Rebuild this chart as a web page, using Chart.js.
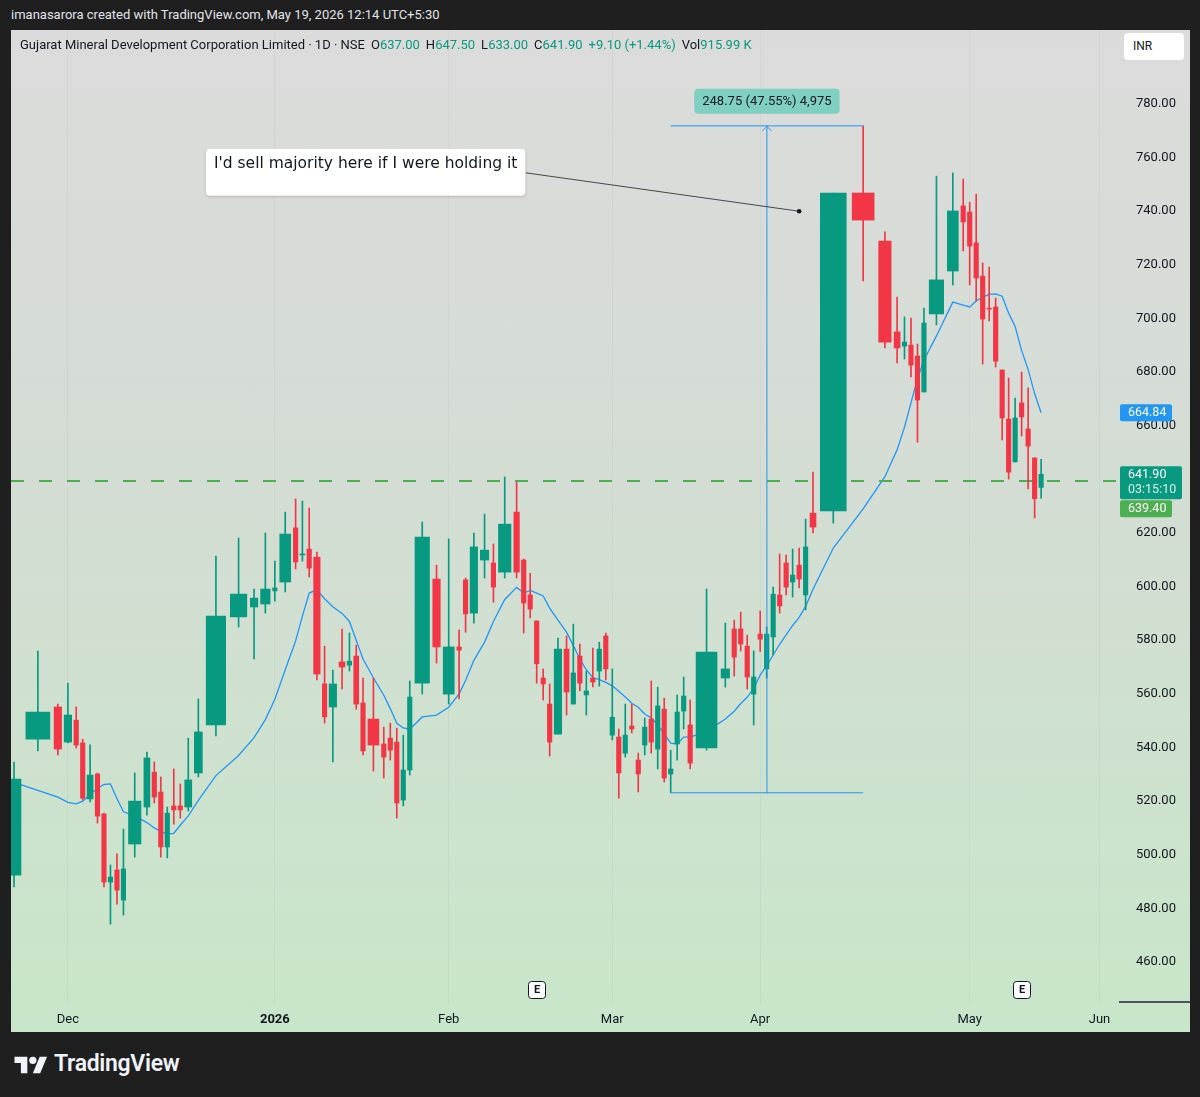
<!DOCTYPE html>
<html>
<head>
<meta charset="utf-8">
<title>GMDC 1D</title>
<script src="https://cdn.jsdelivr.net/npm/chart.js@4.4.1/dist/chart.umd.min.js"></script>
<style>
  html, body { margin: 0; padding: 0; }
  body { width: 1200px; height: 1097px; background: #1f1f1f; position: relative; overflow: hidden;
         font-family: Roboto, "Noto Sans", sans-serif; }
  #credit { position: absolute; left: 11px; top: 7px; font-size: 13px; color: #e1e3ea; }
  #panel { position: absolute; left: 11px; top: 30px; width: 1179px; height: 1002px;
           background: linear-gradient(to bottom, #dbdbdb 0%, #d4ddd4 45%, #c8e6c9 100%); }
  #panel canvas { position: absolute; left: 0; top: 0; }
  #legend { position: absolute; left: 9px; top: 7px; font-size: 13px; color: #131722; white-space: nowrap; }
  #legend .v { color: #089981; }
  #legend .g { margin-left: 6px; }
  #inr { position: absolute; left: 1113px; top: 3px; width: 60px; height: 27px; background: #fff;
         border-radius: 4px; font-size: 12px; color: #131722; line-height: 27px; box-sizing: border-box; padding-left: 9px; }
  #logo { position: absolute; left: 14px; top: 1050px; display: flex; align-items: center; gap: 6px;
          color: #f0f3fa; font-size: 23px; font-weight: 600; letter-spacing: -0.3px; }
</style>
</head>
<body>
<div id="credit">imanasarora created with TradingView.com, May 19, 2026 12:14 UTC+5:30</div>
<div id="panel">
  <canvas id="chart" width="1179" height="1002"></canvas>
  <div id="legend">Gujarat Mineral Development Corporation Limited · 1D · NSE<span class="g">O<span class="v">637.00</span></span><span class="g">H<span class="v">647.50</span></span><span class="g">L<span class="v">633.00</span></span><span class="g">C<span class="v">641.90</span></span><span class="g v">+9.10 (+1.44%)</span><span class="g">Vol<span class="v">915.99 K</span></span></div>
  <div id="inr">INR</div>
</div>
<div id="logo">
  <svg width="34" height="22" viewBox="0 0 36 24"><path d="M14 22H7V11H0V4h14v18z" fill="#f0f3fa"/><circle cx="20" cy="8" r="4" fill="#f0f3fa"/><path d="M28 22h-8l7.5-18h8L28 22z" fill="#f0f3fa"/></svg>
  <span>TradingView</span>
</div>
<script>
// daily candles, 26 Nov 2025 .. 19 May 2026
const opens = [
  492.4, 543.1, 555.1, 542, 550.2, 541.7, 520.8, 530.1, 515.2, 489.8,
  494.3, 483.1, 504, 517.8, 530.8, 523.4, 502.9, 518.2, 518.2, 517.8,
  530.5, 548.4, 588.7, 592.4, 593.5, 598.4, 601.7, 621.9, 611.8, 614,
  611, 563.7, 555.1, 571.9, 570.7, 574.1, 556.6, 550.6, 541.3, 543.5,
  542, 520.4, 531.6, 564, 602.8, 559.9, 577.5, 602.5, 590.1, 609.9,
  608.8, 605.4, 627.8, 609.9, 596.9, 587.2, 565.9, 556.2, 545, 576.7,
  556.2, 574.1, 559.6, 565.9, 568.5, 581.6, 544.6, 543.9, 537.9, 548,
  535.3, 540.9, 550.6, 539.4, 554.3, 530.1, 541.3, 553.6, 548.4, 539.8,
  565.9, 584.2, 584.2, 577.8, 559.9, 582.3, 569.3, 581.2, 596.9, 608.8,
  601.7, 608, 596.9, 627.4, 628.2, 746.8, 728.9, 695, 689.7, 690.1,
  686, 672.6, 701.7, 717.7, 742, 739.7, 728.2, 715.8, 703.8, 704.3,
  680.8, 662.5, 646.5, 668.5, 658.8, 648, 637
];
const highs = [
  534.6, 576, 556.2, 564, 555.1, 543.1, 541, 530.5, 515.5, 496.2,
  500.3, 509.6, 530.5, 538.3, 534.6, 529, 517.8, 532, 526.4, 543.5,
  558.1, 611.4, 618.1, 599.1, 620, 609.5, 627.8, 632.7, 631.9, 629.3,
  612.9, 577.8, 568.9, 584.2, 582.7, 578.2, 565.9, 565.9, 547.6, 549.1,
  547.2, 544.6, 564.8, 624.1, 608, 617.8, 583.8, 603.2, 620, 627.1,
  615.9, 640.9, 639, 610.3, 605, 587.2, 569.3, 563.7, 580.8, 581.6,
  586, 578.6, 568.5, 577.1, 579.3, 582.7, 569.3, 546.9, 556.2, 556.2,
  537.9, 551, 564.8, 562.5, 558.4, 539, 559.6, 566.3, 557.7, 599.1,
  586.4, 587.5, 590.5, 581.9, 576, 590.9, 584.9, 599.8, 612.2, 611.8,
  614, 614.4, 625.2, 642.7, 746.8, 771.85, 732.3, 708, 700.6, 700.2,
  690.5, 703.9, 753.1, 754.3, 752, 743.4, 746.4, 720.7, 719.2, 707.6,
  680.8, 677.8, 670.3, 680, 674.1, 648, 647.5
];
const lows = [
  488, 538.7, 537.2, 541.7, 539.8, 520.4, 519.7, 511.8, 488, 474.1,
  481.6, 477.5, 499.1, 514.8, 519.3, 499.1, 498.8, 511.4, 513.7, 516.3,
  529, 544.3, 584.9, 573, 590.1, 594.6, 598, 606.6, 609.5, 603.6,
  565.2, 549.1, 534.6, 561.8, 568.5, 554.3, 537.2, 531.2, 528.6, 535.3,
  513.7, 518.2, 529.7, 559.9, 571.5, 556.2, 558.1, 583, 586.4, 603.2,
  594.2, 603.2, 603.2, 582.7, 588.3, 564, 557.7, 536.8, 545, 552.1,
  556.2, 561.1, 552.1, 562.6, 562.9, 565.2, 542.8, 521.1, 536.4, 545.4,
  523.4, 537.2, 537.9, 532, 527.1, 523.1, 535.3, 546.9, 532, 539,
  562.5, 566.6, 576, 561.8, 548.4, 575.8, 565.9, 574.5, 590.1, 596.9,
  596.1, 599.5, 591.3, 620, 623.7, 714, 689, 683.4, 684.9, 678.2,
  653.9, 672.6, 697.6, 712.5, 725.2, 712.5, 706.5, 683, 699.1, 681.9,
  654.7, 640.1, 646.5, 656.2, 636.4, 625.6, 633
];
const closes = [
  528.2, 553.2, 539.4, 552.1, 540.9, 521.1, 529.7, 514.4, 489.8, 491.7,
  486.8, 494.7, 520, 536.1, 521.5, 502.9, 515.5, 516.7, 516.7, 527.9,
  545.8, 589, 597.2, 595.7, 599.1, 599.5, 619.6, 609.2, 612.2, 606.9,
  567.4, 551.4, 563.7, 570, 572.2, 556.2, 538.7, 540.9, 536.4, 539,
  519.3, 531.6, 558.8, 618.5, 577.5, 577.5, 576.3, 589.8, 614.8, 613.6,
  599.8, 623.3, 605.4, 593.9, 591.6, 571.2, 563.7, 542, 576.7, 560.7,
  567.8, 564, 561.1, 564.4, 576.7, 569.3, 551.3, 530.5, 544.6, 546.9,
  530.1, 547.6, 542, 555.5, 528.6, 532, 553.2, 559.2, 534.2, 575.6,
  569.3, 573.7, 578.6, 566.3, 566.3, 580.4, 582.3, 597.2, 592.8, 599.8,
  604.3, 602.8, 614.8, 622.2, 746.8, 736.7, 691.2, 689, 691.2, 682.6,
  669.6, 698.3, 714.4, 740.1, 736, 727, 715.1, 699.8, 703.5, 684.1,
  662.9, 642.7, 662.9, 663.3, 652.4, 632.8, 641.9
];
// relative volume, drives candle width (volume candles)
const volW = [
  14, 24, 7.5, 7.5, 4.5, 4.5, 6, 4.5, 4.5, 4.5,
  4.5, 4.5, 12.5, 6, 4.5, 4.5, 4.5, 4.5, 4.5, 7,
  8, 19.5, 16.5, 7.5, 9.5, 4.5, 11, 4.5, 5, 4.5,
  6.5, 4.5, 7.5, 6, 4.5, 5, 4.5, 11, 4.5, 4.5,
  4.5, 4.5, 4.5, 14.5, 7.5, 11, 4.5, 4.5, 7.5, 8.5,
  4.5, 12.5, 5.5, 4.5, 4.5, 4.5, 4.5, 4.5, 7.5, 5,
  4.5, 4.5, 4.5, 4.5, 4.5, 4.5, 4.5, 4.5, 4.5, 4.5,
  4.5, 4.5, 4.5, 4.5, 4.5, 4.5, 4.5, 4.5, 4.5, 21,
  8.5, 4.5, 4.5, 4.5, 4.5, 4.5, 4.5, 4.5, 4.5, 4.5,
  4.5, 4.5, 4.5, 6, 26, 22, 12.5, 6, 4.5, 4.5,
  4.5, 4.5, 14.5, 11, 4.5, 4.5, 4.5, 4.5, 4.5, 4.5,
  4.5, 4.5, 4.5, 4.5, 4.5, 4.5, 4.5
];
// moving average
const maLine = [
  527, 524, 521.5, 519.5, 519, 520, 522.5, 524.8, 526.2, 526.4,
  521, 516, 514.5, 512, 510, 508.7, 507.7, 508, 511, 514.5,
  520.3, 529.5, 537, 543.7, 550.4, 558, 569, 579.7, 589, 597.6,
  598.8, 595.5, 592.5, 590, 587, 580, 573, 566, 559.5, 554.5,
  549, 547.3, 546.8, 551.4, 552.1, 555, 560, 565, 572.5, 579.3,
  587, 595.2, 599.7, 597.6, 598.6, 597.6, 596.5, 592, 587.5, 583,
  578, 573, 569, 566, 565.3, 564.3, 563, 561, 558.8, 556.5,
  555, 552.5, 551, 548.5, 545, 541.6, 541.3, 543.9, 543.9, 546,
  550.6, 553.5, 556.4, 558.7, 562, 567, 570.5, 574.5, 578.5, 582,
  585.5, 588.5, 592.6, 599, 614.4, 629, 641, 651, 659.5, 668.5,
  677.5, 684.5, 693.5, 706.1, 705, 704.3, 706.5, 708, 709, 709.2,
  708.3, 702, 697, 688, 681, 672, 664.84
];
const monthLabels = ['Dec', '2026', 'Feb', 'Mar', 'Apr', 'May', 'Jun'];
const monthIdx = [3, 25, 45, 66, 85, 105, 125];
const priceTicks = [460, 480, 500, 520, 540, 560, 580, 600, 620, 640, 660, 680, 700, 720, 740, 760, 780];
const hLine = 639.40;
const measure = { from: 75, to: 95, low: 523.1, high: 771.85 };
const earnings = [55, 113];
const note = { text: "I'd sell majority here if I were holding it", atIdx: 91, atPrice: 740, boxIdx: 21, boxPrice: 763.3 };

const UP = '#089981', DOWN = '#f23645', BLUE = '#2196f3';
const n = closes.length;

// each bar gets a slot proportional to its volume
const xs = [];
let acc = 0;
volW.forEach(w => {
  const slot = w * 1.2 + 1.1;
  xs.push(acc + slot / 2);
  acc += slot;
});
const xAt = i => i < n ? xs[i] : xs[n - 1] + (i - n + 1) * 6.5;
const xMin = xs[0] - 3;
const xMax = xs[n - 1] + 78;
const k = 1108 / (xMax - xMin);

const bodySets = [...new Set(volW)].map(w => ({
  type: 'bar',
  data: volW.map((v, i) => v === w ? { x: xs[i], y: [opens[i], closes[i]], up: closes[i] >= opens[i] } : null).filter(Boolean),
  barThickness: w * k,
  grouped: false,
  minBarLength: 1,
  borderWidth: 0,
  backgroundColor: c => (c.raw && c.raw.up) ? UP : DOWN,
  order: 1
}));

const wickSet = {
  type: 'bar',
  data: xs.map((x, i) => ({ x: x, y: [lows[i], highs[i]], up: closes[i] >= opens[i] })),
  barThickness: 1,
  grouped: false,
  borderWidth: 0,
  backgroundColor: c => (c.raw && c.raw.up) ? UP : DOWN,
  order: 2
};

const maSet = {
  type: 'line',
  data: xs.map((x, i) => ({ x: x, y: maLine[i] })),
  borderColor: BLUE, borderWidth: 1.3, pointRadius: 0, tension: 0, order: 5
};

const mx = (xs[measure.from] + xs[measure.to]) / 2;
const lineSet = (pts, color, dash, width, order) => ({
  type: 'line', data: pts, borderColor: color, borderWidth: width, borderDash: dash,
  pointRadius: 0, tension: 0, order: order
});
const drawSets = [
  lineSet([{ x: xMin, y: hLine }, { x: xMax, y: hLine }], '#4caf50', [13, 15], 2, 4),
  lineSet([{ x: xs[measure.from], y: measure.high }, { x: xs[measure.to], y: measure.high }], BLUE, [], 1, 0),
  lineSet([{ x: xs[measure.from], y: measure.low }, { x: xs[measure.to], y: measure.low }], BLUE, [], 1, 0),
  lineSet([{ x: mx, y: measure.low }, { x: mx, y: measure.high }], BLUE, [], 1, 0)
];

function roundBox(ctx, x, y, w, h, r) {
  ctx.beginPath();
  ctx.roundRect(x, y, w, h, r);
}

const overlay = {
  id: 'overlay',
  afterDatasetsDraw(chart) {
    const { ctx, chartArea: a, scales: { x, y } } = chart;
    ctx.save();

    // price range tool: arrow + label
    const px = x.getPixelForValue(mx), top = y.getPixelForValue(measure.high);
    ctx.strokeStyle = BLUE; ctx.lineWidth = 1;
    ctx.beginPath(); ctx.moveTo(px - 4.5, top + 5); ctx.lineTo(px, top + 0.5); ctx.lineTo(px + 4.5, top + 5); ctx.stroke();
    const diff = measure.high - measure.low;
    const label = diff.toFixed(2) + ' (' + (diff / measure.low * 100).toFixed(2) + '%) ' + Math.round(diff / 0.05).toLocaleString('en-US');
    ctx.font = '13px Roboto';
    const lw = ctx.measureText(label).width + 16;
    ctx.fillStyle = '#7fd0c0';
    roundBox(ctx, px - lw / 2, top - 37, lw, 25, 4); ctx.fill();
    ctx.fillStyle = '#131722'; ctx.textAlign = 'center'; ctx.textBaseline = 'middle';
    ctx.fillText(label, px, top - 24);

    // callout
    ctx.font = '15.5px "DejaVu Sans"';
    const tw = ctx.measureText(note.text).width;
    const bx = x.getPixelForValue(xs[note.boxIdx]) - 10, by = y.getPixelForValue(note.boxPrice);
    const bw = tw + 16, bh = 47;
    const ax = x.getPixelForValue(xs[note.atIdx]), ay = y.getPixelForValue(note.atPrice);
    ctx.strokeStyle = '#434651'; ctx.lineWidth = 1;
    ctx.beginPath(); ctx.moveTo(bx + bw, by + 24); ctx.lineTo(ax, ay); ctx.stroke();
    ctx.fillStyle = '#131722';
    ctx.beginPath(); ctx.arc(ax, ay, 2.3, 0, Math.PI * 2); ctx.fill();
    ctx.shadowColor = 'rgba(0,0,0,0.18)'; ctx.shadowBlur = 3; ctx.shadowOffsetY = 1;
    ctx.fillStyle = '#ffffff';
    roundBox(ctx, bx, by, bw, bh, 4); ctx.fill();
    ctx.shadowColor = 'transparent';
    ctx.fillStyle = '#131722'; ctx.textAlign = 'left';
    ctx.fillText(note.text, bx + 8, by + 15);

    // earnings markers
    ctx.font = 'bold 11px Roboto'; ctx.textAlign = 'center';
    earnings.forEach(i => {
      const ex = Math.round(x.getPixelForValue(xs[i])), ey = a.bottom - 13;
      ctx.fillStyle = '#ffffff'; ctx.strokeStyle = '#131722'; ctx.lineWidth = 1;
      roundBox(ctx, ex - 8.5, ey - 8.5, 17, 17, 3); ctx.fill(); ctx.stroke();
      ctx.fillStyle = '#131722'; ctx.fillText('E', ex, ey + 0.5);
    });

    // price-axis labels
    const lx = a.right + 1;
    ctx.textAlign = 'left'; ctx.font = '12.5px Roboto';
    const maY = y.getPixelForValue(maLine[n - 1]);
    ctx.fillStyle = BLUE; roundBox(ctx, lx, maY - 8.5, 52, 17, 2); ctx.fill();
    ctx.fillStyle = '#fff'; ctx.fillText(maLine[n - 1].toFixed(2), lx + 8, maY + 0.5);
    const cY = y.getPixelForValue(closes[n - 1]);
    ctx.fillStyle = UP; roundBox(ctx, lx, cY - 8, 62, 33, 2); ctx.fill();
    ctx.fillStyle = '#fff';
    ctx.fillText(closes[n - 1].toFixed(2), lx + 8, cY + 0.5);
    ctx.fillStyle = 'rgba(255,255,255,0.85)';
    ctx.fillText('03:15:10', lx + 8, cY + 16);
    ctx.fillStyle = '#4caf50'; roundBox(ctx, lx, cY + 26, 52, 17, 2); ctx.fill();
    ctx.fillStyle = '#fff'; ctx.fillText(hLine.toFixed(2), lx + 8, cY + 35);

    // bottom edge of price scale
    ctx.strokeStyle = '#50535e'; ctx.lineWidth = 2;
    ctx.beginPath(); ctx.moveTo(a.right, a.bottom - 1); ctx.lineTo(chart.width, a.bottom - 1); ctx.stroke();
    ctx.restore();
  }
};

new Chart(document.getElementById('chart'), {
  type: 'bar',
  data: { datasets: [...drawSets, ...bodySets, wickSet, maSet] },
  options: {
    responsive: false,
    animation: false,
    devicePixelRatio: 1,
    layout: { padding: 0 },
    plugins: { legend: { display: false }, tooltip: { enabled: false } },
    scales: {
      x: {
        type: 'linear', min: xMin, max: xMax, offset: false,
        grid: { color: 'rgba(0,0,0,0.03)', drawTicks: false, offset: false },
        border: { display: false },
        afterBuildTicks: s => { s.ticks = monthIdx.map(i => ({ value: xAt(i) })); },
        afterFit: s => { s.height = 29; s.paddingLeft = 0; s.paddingRight = 0; },
        ticks: {
          autoSkip: false, maxRotation: 0, padding: 9, color: '#131722',
          font: c => ({ family: 'Roboto', size: 13, weight: monthLabels[c.index] === '2026' ? 'bold' : 'normal' }),
          callback: (v, i) => monthLabels[i]
        }
      },
      y: {
        position: 'right', min: 444.7, max: 807.6,
        grid: { display: false },
        border: { display: false },
        afterBuildTicks: s => { s.ticks = priceTicks.map(v => ({ value: v })); },
        afterFit: s => { s.width = 71; s.paddingTop = 0; s.paddingBottom = 0; },
        ticks: { padding: 9, color: '#131722', font: { family: 'Roboto', size: 13 }, callback: v => v.toFixed(2) }
      }
    }
  },
  plugins: [overlay]
});
</script>
</body>
</html>
